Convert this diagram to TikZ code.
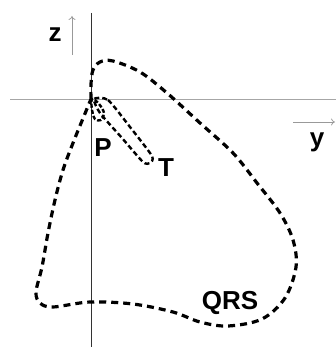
\documentclass[tikz,border=0pt]{standalone}
\usepackage{fontspec}
\setmainfont{Liberation Sans}
\usetikzlibrary{arrows.meta}

\begin{document}
\begin{tikzpicture}[x=1pt, y=-1pt, >={To[length=4pt, width=7pt]},
    wave/.style={line width=3.2pt, dash pattern=on 7pt off 5pt},
    lbl/.style={font=\bfseries\fontsize{26}{26}\selectfont, inner sep=0pt}]

  \useasboundingbox[fill=white] (0,0) rectangle (336,347);

  % Axes
  \coordinate (orig) at (91,99);
  \coordinate (hleft) at (10,99);
  \coordinate (hright) at (336,99);
  \coordinate (vtop) at (91,13);
  \coordinate (vbot) at (91,347);
  \draw[gray!70, line width=0.8pt] (hleft) -- (hright);
  \draw[black!80, line width=1pt] (vtop) -- (vbot);

  % Direction arrows
  \coordinate (zfrom) at (72,55);
  \coordinate (zto) at (72,16);
  \coordinate (yfrom) at (293,122);
  \coordinate (yto) at (335,122);
  \draw[->, gray!80, line width=0.7pt] (zfrom) -- (zto);
  \draw[->, gray!80, line width=0.7pt] (yfrom) -- (yto);
  \node[lbl] (zlab) at (55,35) {z};
  \node[lbl] (ylab) at (317,142) {y};

  % QRS loop
  \draw[wave] plot[smooth, tension=0.55] coordinates {
    (91,99) (91,84) (93,70) (100,62) (113,61) (140,72) (167,93) (200,123)
    (233,153) (257,183) (280,213) (293,240) (296,267) (285,298) (262,319)
    (228,326) (200,322) (173,312) (133,304) (90,302) (53,307) (40,303)
    (36,292) (42,267) (48,233) (55,200) (63,170) (73,143) (84,116) (91,99)};
  \node[lbl] (qrs) at (230,303) {QRS};

  % P loop
  \draw[line width=2.4pt, dash pattern=on 4pt off 2pt] plot[smooth cycle, tension=0.6]
    coordinates {(92,99) (92,110) (95,119) (101,120) (104,113) (99,104)};
  \node[lbl] (plab) at (103,148) {P};

  % T loop
  \draw[line width=2.4pt, dash pattern=on 5pt off 3pt] plot[smooth cycle, tension=0.4]
    coordinates {(94,99) (108,100) (130,127) (152,156) (150,163) (143,162)
    (122,138) (100,113)};
  \node[lbl] (tlab) at (166,168) {T};

\end{tikzpicture}
\end{document}
